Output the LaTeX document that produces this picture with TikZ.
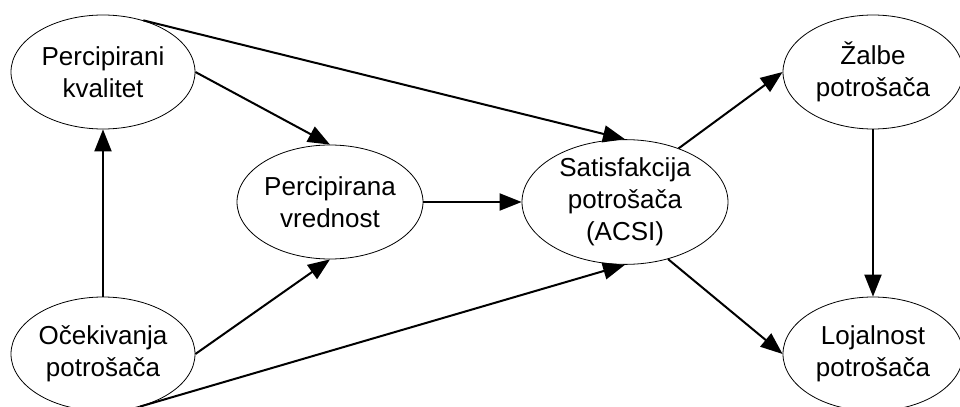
\documentclass[tikz,border=0pt]{standalone}
\usepackage{fontspec}
\setmainfont{Liberation Sans}
\usetikzlibrary{shapes.geometric,arrows.meta}
\begin{document}
\begin{tikzpicture}[x=0.5pt,y=-0.5pt,
    oval/.style={shape=ellipse,draw=black,line width=0.4pt,inner sep=0pt,
      minimum width=92pt,minimum height=57pt,align=center,
      font=\fontsize{13}{16}\selectfont},
    link/.style={line width=1pt,-{Triangle[length=11pt,width=8.5pt]}}]
    \clip (0,0) rectangle (960,407);

    \node[oval] (pk) at (103,72) {Percipirani\\kvalitet};
    \node[oval] (pv) at (330,202) {Percipirana\\vrednost};
    \node[oval] (op) at (103,354) {Očekivanja\\potrošača};
    \node[oval,minimum width=103pt,minimum height=58pt] (sp) at (625,202) {Satisfakcija\\potrošača\\(ACSI)};
    \node[oval,minimum width=90pt] (zp) at (873,72) {Žalbe\\potrošača};
    \node[oval,minimum width=90pt] (lp) at (873,354) {Lojalnost\\potrošača};

    \path [link] (op) edge (pk);
    \path [link] (pk.east) edge (pv.north);
    \path [link] (op.east) edge (pv.south);
    \path [link] (pk.52) edge (sp.north);
    \path [link] (op.-55) edge (sp.south);
    \path [link] (pv.east) edge (sp.west);
    \path [link] (sp.45) edge (zp.west);
    \path [link] (sp.-53) edge (lp.west);
    \path [link] (zp) edge (lp);
\end{tikzpicture}
\end{document}
